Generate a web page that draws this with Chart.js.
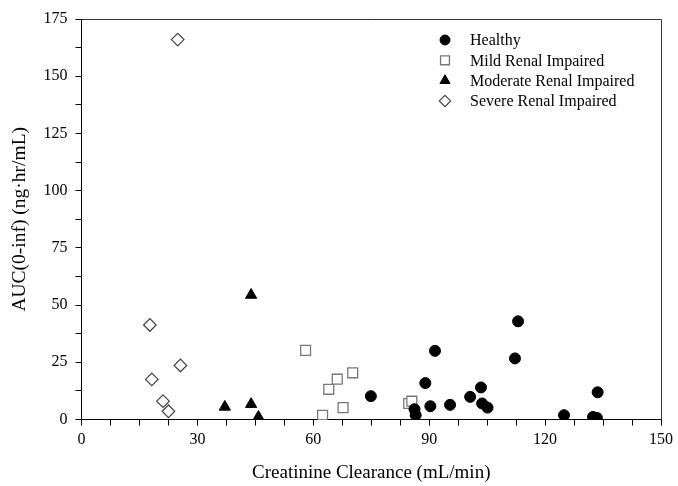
<!DOCTYPE html>
<html>
<head>
<meta charset="utf-8">
<script src="https://cdn.jsdelivr.net/npm/chart.js@4/dist/chart.umd.min.js"></script>
<style>
  html, body { margin: 0; padding: 0; background: #fff; }
  #wrap { width: 678px; height: 486px; }
</style>
</head>
<body>
<div id="wrap"><canvas id="auc" width="678" height="486"></canvas></div>
<script>
// values
const healthyX  = [74.9, 86.2, 86.5, 89.0, 91.5, 90.3, 95.4, 100.6, 103.4, 103.7, 105.1, 112.2, 113.0, 124.9, 132.4, 133.4, 133.6];
const healthyY  = [10.2, 4.5, 1.9, 15.9, 30.0, 5.8, 6.4, 9.9, 14.0, 7.0, 5.2, 26.7, 42.9, 1.9, 1.1, 0.7, 11.9];

const mildX     = [58.0, 62.4, 64.0, 66.2, 67.7, 70.2, 84.7, 85.5];
const mildY     = [30.2, 1.8, 13.2, 17.6, 5.2, 20.4, 7.0, 8.0];

const moderateX = [37.1, 43.9, 43.9, 45.8];
const moderateY = [5.5, 54.4, 6.7, 1.1];

const severeX   = [24.9, 17.7, 18.2, 25.6, 21.1, 22.5];
const severeY   = [166, 41.3, 17.5, 23.6, 8.0, 3.6];

const xTicks = [0, 30, 60, 90, 120, 150];
const yTicks = [0, 25, 50, 75, 100, 125, 150, 175];

const FONT = 'Liberation Serif, Times New Roman, serif';

const toPoints = (xs, ys) => xs.map((x, i) => ({ x: x, y: ys[i] }));

const datasets = [
  { label: 'Healthy', data: toPoints(healthyX, healthyY), pointStyle: 'circle', pointRadius: 5.5,
    backgroundColor: '#000', borderColor: '#000', borderWidth: 1 },
  { label: 'Mild Renal Impaired', data: toPoints(mildX, mildY), pointStyle: 'rect', pointRadius: 7,
    backgroundColor: '#fff', borderColor: '#777', borderWidth: 1.3 },
  { label: 'Moderate Renal Impaired', data: toPoints(moderateX, moderateY), pointStyle: 'triangle', pointRadius: 6.5,
    backgroundColor: '#000', borderColor: '#000', borderWidth: 1 },
  { label: 'Severe Renal Impaired', data: toPoints(severeX, severeY), pointStyle: 'rectRot', pointRadius: 6.3,
    backgroundColor: '#fff', borderColor: '#444', borderWidth: 1.2 }
];

// frame round the plot area (top and right edges as in the reference)
const frame = {
  id: 'frame',
  afterDraw(chart) {
    const { ctx, chartArea: a } = chart;
    ctx.save();
    ctx.strokeStyle = '#333';
    ctx.lineWidth = 1;
    ctx.beginPath();
    ctx.moveTo(a.left, a.top + 0.5);
    ctx.lineTo(a.right + 0.5, a.top + 0.5);
    ctx.lineTo(a.right + 0.5, a.bottom);
    ctx.stroke();
    ctx.restore();
  }
};

// legend drawn inside the plot, upper right
const insideLegend = {
  id: 'insideLegend',
  afterDraw(chart) {
    const { ctx } = chart;
    const mx = 445, tx = 470, y0 = 40, dy = 20.3;
    ctx.save();
    ctx.font = '16px ' + FONT;
    ctx.textBaseline = 'middle';
    chart.data.datasets.forEach((ds, i) => {
      const y = y0 + i * dy;
      ctx.fillStyle = ds.backgroundColor;
      ctx.strokeStyle = ds.borderColor;
      ctx.lineWidth = ds.borderWidth;
      Chart.helpers.drawPoint(ctx, { pointStyle: ds.pointStyle, radius: ds.pointRadius * 0.9, rotation: 0, borderWidth: ds.borderWidth }, mx, y);
      ctx.fillStyle = '#000';
      ctx.fillText(ds.label, tx, y + 1);
    });
    ctx.restore();
  }
};

new Chart(document.getElementById('auc'), {
  type: 'scatter',
  data: { datasets: datasets },
  plugins: [frame, insideLegend],
  options: {
    responsive: false,
    animation: false,
    layout: { padding: { top: 19, right: 14, left: 0, bottom: 0 } },
    plugins: { legend: { display: false }, tooltip: { enabled: false } },
    scales: {
      x: {
        type: 'linear', min: 0, max: 150,
        afterFit(scale) { scale.height = 66.5; },
        ticks: {
          stepSize: 7.5, autoSkip: false, maxRotation: 0, padding: 5,
          color: '#000', font: { family: FONT, size: 16 },
          callback: v => (xTicks.includes(v) ? String(v) : '')
        },
        grid: { drawOnChartArea: false, tickLength: 6, color: '#000', tickColor: '#000' },
        border: { color: '#000', width: 1 },
        title: { display: true, text: 'Creatinine Clearance (mL/min)', color: '#000',
          font: { family: FONT, size: 19 }, padding: { top: 0, bottom: 2 } }
      },
      y: {
        type: 'linear', min: 0, max: 175,
        afterFit(scale) { scale.width = 81.5; },
        ticks: {
          stepSize: 12.5, autoSkip: false, padding: 8,
          color: '#000', font: { family: FONT, size: 16 },
          callback: v => (yTicks.includes(v) ? String(v) : '')
        },
        grid: { drawOnChartArea: false, tickLength: 6, color: '#000', tickColor: '#000' },
        border: { color: '#000', width: 1 },
        title: { display: true, text: 'AUC(0-inf) (ng·hr/mL)', color: '#000',
          font: { family: FONT, size: 19.5 }, padding: { top: 8, bottom: 0 } }
      }
    }
  }
});
</script>
</body>
</html>
